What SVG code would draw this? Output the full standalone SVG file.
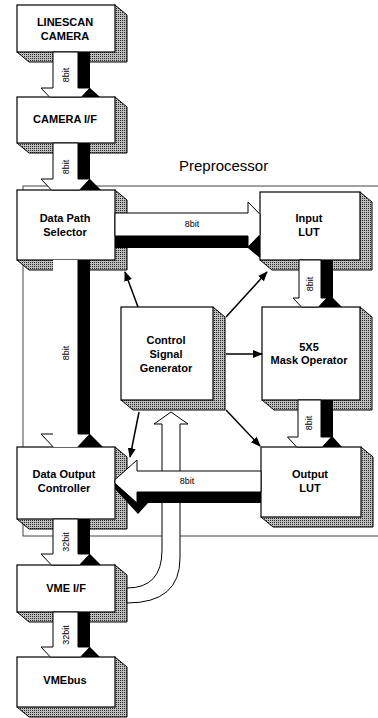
<svg xmlns="http://www.w3.org/2000/svg" width="378" height="718" viewBox="0 0 378 718">
<defs>
<pattern id="dither" width="2" height="2" patternUnits="userSpaceOnUse">
<rect width="2" height="2" fill="#bdbdbd"/>
<rect width="1" height="1" fill="#2a2a2a"/>
</pattern>
<marker id="ah" markerWidth="10" markerHeight="8" refX="9" refY="4" orient="auto" markerUnits="userSpaceOnUse">
<path d="M0,0 L10,4 L0,8 Z" fill="#000"/>
</marker>
<style>
.front{fill:#fff;stroke:#000;stroke-width:1.2}
.side{fill:url(#dither);stroke:#000;stroke-width:1}
.lbl{font-family:"Liberation Sans",Arial,sans-serif;font-weight:bold;font-size:11px;text-anchor:middle;fill:#000}
.bus{font-family:"Liberation Sans",Arial,sans-serif;font-size:9px;text-anchor:middle;fill:#000}
.wa{fill:#fff;stroke:#000;stroke-width:1}
.ba{fill:#000}
.ctl{stroke:#000;stroke-width:1.5;fill:none;marker-end:url(#ah)}
</style>
</defs>
<rect width="378" height="718" fill="#fff"/>

<g id="preprocessor">
<rect x="23" y="186" width="400" height="350" fill="none" stroke="#444" stroke-width="1"/>
<text x="179" y="171" font-family="'Liberation Sans',Arial,sans-serif" font-size="15">Preprocessor</text>
</g>

<g id="linescan-camera">
<polygon class="side" points="115,5 127,15 127,62 29,62 17,52"/>
<rect class="front" x="17" y="5" width="98" height="47"/>
<text class="lbl" x="65" y="26">LINESCAN</text>
<text class="lbl" x="65" y="40">CAMERA</text>
</g>

<g id="camera-if">
<polygon class="side" points="115,97 127,107 127,153 29,153 17,143"/>
<rect class="front" x="17" y="97" width="98" height="46"/>
<text class="lbl" x="65" y="123">CAMERA I/F</text>
</g>

<g id="data-path-selector">
<polygon class="side" points="115,190 127,200 127,270 29,270 17,260"/>
<rect class="front" x="17" y="190" width="98" height="70"/>
<text class="lbl" x="65" y="222">Data Path</text>
<text class="lbl" x="65" y="236">Selector</text>
</g>

<g id="input-lut">
<polygon class="side" points="360,192 372,202 372,270 272,270 260,260"/>
<rect class="front" x="260" y="192" width="100" height="68"/>
<text class="lbl" x="309" y="222">Input</text>
<text class="lbl" x="309" y="236">LUT</text>
</g>

<g id="control-signal-generator">
<polygon class="side" points="213,307 225,317 225,410 133,410 121,400"/>
<rect class="front" x="121" y="307" width="92" height="93"/>
<text class="lbl" x="166" y="344">Control</text>
<text class="lbl" x="166" y="358">Signal</text>
<text class="lbl" x="166" y="372">Generator</text>
</g>

<g id="mask-operator">
<polygon class="side" points="360,307 372,317 372,410 274,410 262,400"/>
<rect class="front" x="262" y="307" width="98" height="93"/>
<text class="lbl" x="309" y="351">5X5</text>
<text class="lbl" x="309" y="364">Mask Operator</text>
</g>

<g id="output-lut">
<polygon class="side" points="361,447 373,457 373,527 273,527 261,517"/>
<rect class="front" x="261" y="447" width="100" height="70"/>
<text class="lbl" x="310" y="478">Output</text>
<text class="lbl" x="310" y="492">LUT</text>
</g>

<g id="data-output-controller">
<polygon class="side" points="115,447 127,457 127,529 29,529 17,519"/>
<rect class="front" x="17" y="447" width="98" height="72"/>
<text class="lbl" x="64" y="478">Data Output</text>
<text class="lbl" x="64" y="492">Controller</text>
</g>

<g id="vme-if">
<polygon class="side" points="115,565 127,575 127,622 29,622 17,612"/>
<rect class="front" x="17" y="565" width="98" height="47"/>
<text class="lbl" x="66" y="592">VME I/F</text>
</g>

<g id="vmebus">
<polygon class="side" points="115,657 127,667 127,717 29,717 17,707"/>
<rect class="front" x="17" y="657" width="98" height="50"/>
<text class="lbl" x="65" y="684">VMEbus</text>
</g>

<g id="connectors">
<path class="wa" d="M171,412 L188,424 L180,424 L180,558 Q180,603 127,603 L127,588 Q162,588 162,550 L162,424 L154,424 Z"/>

<polygon class="ba" points="78,52 90,52 90,88 100,97 78,97"/>
<polygon class="wa" points="53,52 78,52 78,88 90,88 81.5,97 49.5,97 41,88 53,88"/>
<text class="bus" transform="translate(69,75) rotate(-90)">8bit</text>

<polygon class="ba" points="78,143 90,143 90,179 101,190 78,190"/>
<polygon class="wa" points="53,143 78,143 78,179 90,179 79.6,190 51.4,190 41,179 53,179"/>
<text class="bus" transform="translate(69,167) rotate(-90)">8bit</text>

<polygon class="ba" points="78,260 90,260 90,434 103,447 78,447"/>
<polygon fill="#fff" points="53,260 78,260 78,434 90,434 77.75,447 53.25,447 41,434 53,434"/>
<path d="M78,260 L78,434 L90,434 L77.75,447 M53.25,447 L41,434 L53,434" fill="none" stroke="#000" stroke-width="1"/>
<text class="bus" transform="translate(69,353) rotate(-90)">8bit</text>

<polygon class="ba" points="115,236 260,236 260,258 248,248 115,248"/>
<polygon class="wa" points="115,213 248,213 248,202 260,214.3 260,234.7 248,247 248,236 115,236"/>
<text class="bus" x="192" y="227">8bit</text>

<polygon class="ba" points="321,260 333,260 333,298 342,307 318,307"/>
<polygon class="wa" points="299,260 321,260 321,298 327,298 318.5,307 301.5,307 293,298 299,298"/>
<text class="bus" transform="translate(313,284) rotate(-90)">8bit</text>

<polygon class="ba" points="321,400 333,400 333,437 342,447 320,447"/>
<polygon class="wa" points="298,400 321,400 321,437 331.5,437 322.3,447 296.7,447 287.5,437 298,437"/>
<text class="bus" transform="translate(312,423) rotate(-90)">8bit</text>

<polygon class="ba" points="261,492 261,503 148,503 138,514 115,489 115,482 137,492"/>
<polygon class="wa" points="261,471 137,471 137,460 115,479.7 115,483.3 137,503 137,492 261,492"/>
<text class="bus" x="187" y="484">8bit</text>

<polygon class="ba" points="78,519 90,519 90,554 101,565 78,565"/>
<polygon class="wa" points="53,519 78,519 78,554 90,554 79.6,565 51.4,565 41,554 53,554"/>
<text class="bus" transform="translate(69,542) rotate(-90)">32bit</text>

<polygon class="ba" points="78,612 90,612 90,647 100,657 78,657"/>
<polygon class="wa" points="53,612 78,612 78,647 90,647 80.6,657 50.4,657 41,647 53,647"/>
<text class="bus" transform="translate(69,635) rotate(-90)">32bit</text>

<line class="ctl" x1="138" y1="307" x2="125" y2="272"/>
<line class="ctl" x1="226" y1="317" x2="267" y2="272"/>
<line class="ctl" x1="226" y1="354" x2="262" y2="354"/>
<line class="ctl" x1="226" y1="410" x2="260" y2="446"/>
<line class="ctl" x1="139" y1="412" x2="130" y2="457"/>
</g>
</svg>
